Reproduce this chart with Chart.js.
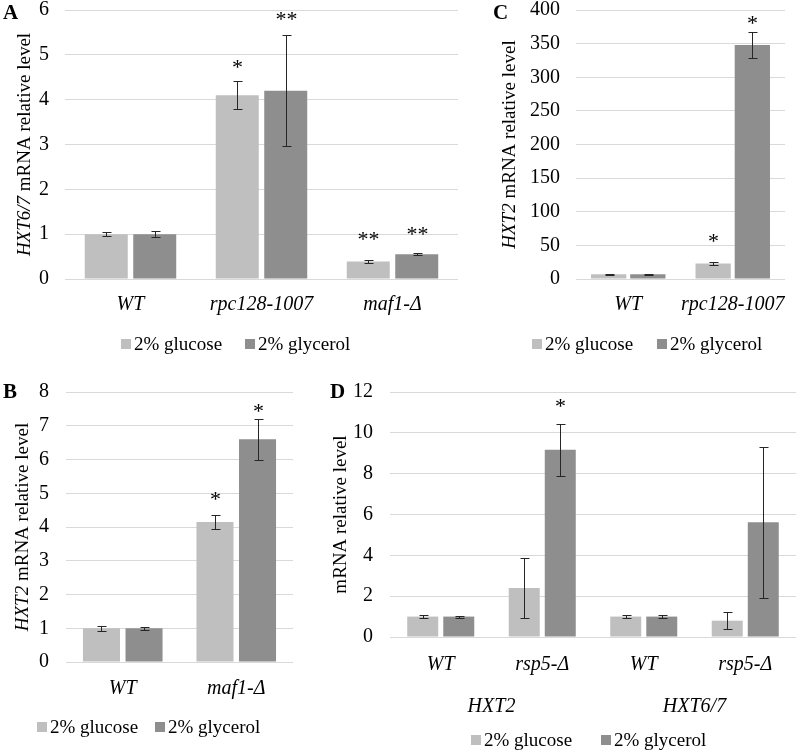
<!DOCTYPE html>
<html><head><meta charset="utf-8">
<script src="https://cdn.jsdelivr.net/npm/chart.js@4.4.1/dist/chart.umd.min.js"></script>
<style>
body{margin:0;background:#fff;width:800px;height:753px;position:relative;overflow:hidden}
canvas{position:absolute}
</style></head><body>
<canvas id="ca" width="465" height="360" style="left:0;top:0"></canvas>
<canvas id="cc" width="335" height="360" style="left:465px;top:0"></canvas>
<canvas id="cb" width="300" height="373" style="left:0;top:380px"></canvas>
<canvas id="cd" width="500" height="373" style="left:300px;top:380px"></canvas>
<script>
// ---------- data ----------
const seriesNames = ['2% glucose', '2% glycerol'];

const catsA = ['WT', 'rpc128-1007', 'maf1-Δ'];
const glucA = [1.0, 4.1, 0.39];
const glycA = [1.0, 4.2, 0.55];
const glucErrA = [0.05, 0.31, 0.03];
const glycErrA = [0.07, 1.24, 0.02];
const glucSigA = ['', '*', '**'];
const glycSigA = ['', '**', '**'];

const catsB = ['WT', 'maf1-Δ'];
const glucB = [1.0, 4.15];
const glycB = [1.0, 6.6];
const glucErrB = [0.08, 0.21];
const glycErrB = [0.05, 0.6];
const glucSigB = ['', '*'];
const glycSigB = ['', '*'];

const catsC = ['WT', 'rpc128-1007'];
const glucC = [7, 23];
const glycC = [7, 348];
const glucErrC = [0.6, 2];
const glycErrC = [0.6, 20];
const glucSigC = ['', '*'];
const glycSigC = ['', '*'];

const catsD = ['WT', 'rsp5-Δ', 'WT', 'rsp5-Δ'];
const groupsD = ['HXT2', 'HXT6/7'];
const glucD = [1.0, 2.4, 1.0, 0.8];
const glycD = [1.0, 9.17, 1.0, 5.62];
const glucErrD = [0.07, 1.48, 0.06, 0.42];
const glycErrD = [0.05, 1.26, 0.06, 3.7];
const glucSigD = ['', '', '', ''];
const glycSigD = ['', '*', '', ''];

// ---------- styles ----------
const FONT = '"Liberation Serif", "Times New Roman", serif';
const C_GLU = '#BFBFBF';
const C_GLY = '#8E8E8E';
const GRID = '#D9D9D9';

const decor = {
  id: 'decor',
  afterDatasetsDraw(chart, args, o) {
    const ctx = chart.ctx, y = chart.scales.y;
    chart.data.datasets.forEach((ds, di) => {
      const meta = chart.getDatasetMeta(di);
      meta.data.forEach((bar, i) => {
        const v = ds.data[i], e = ds.errors[i];
        const top = Math.round(y.getPixelForValue(v + e)) + 0.5;
        const bot = Math.round(y.getPixelForValue(v - e)) + 0.5;
        const x = Math.round(bar.x) + 0.5;
        ctx.save();
        ctx.strokeStyle = '#262626'; ctx.lineWidth = 1;
        ctx.beginPath();
        ctx.moveTo(x, top); ctx.lineTo(x, bot);
        ctx.moveTo(x - 4, top); ctx.lineTo(x + 5, top);
        ctx.moveTo(x - 4, bot); ctx.lineTo(x + 5, bot);
        ctx.stroke();
        const s = ds.marks[i];
        if (s) {
          ctx.fillStyle = '#000';
          ctx.font = '22px ' + FONT;
          ctx.textAlign = 'center'; ctx.textBaseline = 'alphabetic';
          ctx.fillText(s, x, top - o.starGap[di][i] + 7);
        }
        ctx.restore();
      });
    });
  },
  afterDraw(chart, args, o) {
    const ctx = chart.ctx, ca = chart.chartArea;
    ctx.save();
    ctx.fillStyle = '#000';
    ctx.font = 'bold 21px ' + FONT;
    ctx.textAlign = 'left'; ctx.textBaseline = 'middle';
    ctx.fillText(o.letter, o.letterX, o.letterY);
    ctx.save();
    ctx.translate(o.titleX, (ca.top + ca.bottom) / 2);
    ctx.rotate(-Math.PI / 2);
    ctx.textBaseline = 'middle'; ctx.textAlign = 'left';
    ctx.font = 'italic 19px ' + FONT;
    const w1 = ctx.measureText(o.title[0]).width;
    ctx.font = '19px ' + FONT;
    const w2 = ctx.measureText(o.title[1]).width;
    const x0 = -(w1 + w2) / 2;
    ctx.font = 'italic 19px ' + FONT;
    ctx.fillText(o.title[0], x0, 0);
    ctx.font = '19px ' + FONT;
    ctx.fillText(o.title[1], x0 + w1, 0);
    ctx.restore();
    ctx.font = '19px ' + FONT;
    ctx.textBaseline = 'middle'; ctx.textAlign = 'left';
    chart.data.datasets.forEach((ds, di) => {
      const lx = o.legendX[di];
      ctx.fillStyle = ds.backgroundColor;
      ctx.fillRect(lx, o.legendY - 5, 10, 10);
      ctx.fillStyle = '#000';
      ctx.fillText(ds.label, lx + 13, o.legendY + 1);
    });
    ctx.restore();
  }
};

function noPad(s) { s.paddingTop = 0; s.paddingBottom = 0; s.paddingLeft = 0; s.paddingRight = 0; }

function makeChart(id, cfg) {
  const el = document.getElementById(id);
  const H = el.height, W = el.width;
  const scales = {
    x: {
      type: 'category',
      grid: { display: false }, border: { display: false },
      ticks: { color: '#000', padding: cfg.xPad, autoSkip: false, maxRotation: 0, font: { family: FONT, size: 20, style: 'italic', lineHeight: 1 } },
      afterFit: s => { s.height = cfg.xH; noPad(s); }
    },
    y: {
      min: 0, max: cfg.max,
      grid: { color: GRID, lineWidth: 1, drawTicks: false },
      border: { display: false },
      ticks: { stepSize: cfg.step, color: '#000', padding: cfg.yPad, font: { family: FONT, size: 20, lineHeight: 1 } },
      afterFit: s => { s.width = cfg.left; noPad(s); }
    }
  };
  let extraH = 0;
  if (cfg.groups) {
    scales.x2 = {
      type: 'category', position: 'bottom', labels: cfg.groups, offset: true,
      grid: { display: false }, border: { display: false },
      ticks: { color: '#000', padding: cfg.x2Pad, maxRotation: 0, font: { family: FONT, size: 20, style: 'italic', lineHeight: 1 } },
      afterFit: s => { s.height = cfg.x2H; noPad(s); }
    };
    extraH = cfg.x2H;
  }
  return new Chart(el, {
    type: 'bar',
    data: {
      labels: cfg.cats,
      datasets: [
        { label: seriesNames[0], data: cfg.glu, errors: cfg.gluErr, marks: cfg.gluSig, backgroundColor: C_GLU,
          categoryPercentage: cfg.catP, barPercentage: cfg.barP },
        { label: seriesNames[1], data: cfg.gly, errors: cfg.glyErr, marks: cfg.glySig, backgroundColor: C_GLY,
          categoryPercentage: cfg.catP, barPercentage: cfg.barP }
      ]
    },
    options: {
      responsive: false, animation: false, devicePixelRatio: 1,
      layout: { padding: { left: 0, right: W - cfg.right, top: cfg.top, bottom: H - cfg.bottom - cfg.xH - extraH } },
      plugins: {
        legend: { display: false }, tooltip: { enabled: false },
        decor: cfg.decor
      },
      scales
    },
    plugins: [decor]
  });
}

makeChart('ca', {
  cats: catsA, glu: glucA, gly: glycA, gluErr: glucErrA, glyErr: glycErrA, gluSig: glucSigA, glySig: glycSigA,
  max: 6, step: 1, left: 65, right: 458, top: 10, bottom: 279, xH: 40, xPad: 8, yPad: 16,
  catP: 0.74, barP: 0.887,
  decor: { letter: 'A', letterX: 3, letterY: 14, title: ['HXT6/7', ' mRNA relative level'], titleX: 25,
    legendX: [121, 245], legendY: 344, starGap: [[0, 15, 22], [0, 17, 20]] }
});

makeChart('cc', {
  cats: catsC, glu: glucC, gly: glycC, gluErr: glucErrC, glyErr: glycErrC, gluSig: glucSigC, glySig: glycSigC,
  max: 400, step: 50, left: 111, right: 320, top: 10, bottom: 279, xH: 40, xPad: 8, yPad: 16,
  catP: 0.75, barP: 0.9,
  decor: { letter: 'C', letterX: 28, letterY: 14, title: ['HXT2', ' mRNA relative level'], titleX: 45,
    legendX: [67, 192], legendY: 344, starGap: [[0, 22], [0, 10]] }
});

makeChart('cb', {
  cats: catsB, glu: glucB, gly: glycB, gluErr: glucErrB, glyErr: glycErrB, gluSig: glucSigB, glySig: glycSigB,
  max: 8, step: 1, left: 66, right: 293, top: 12, bottom: 282, xH: 40, xPad: 9, yPad: 17,
  catP: 0.75, barP: 0.87,
  decor: { letter: 'B', letterX: 3, letterY: 13, title: ['HXT2', ' mRNA relative level'], titleX: 23,
    legendX: [37, 155], legendY: 347, starGap: [[0, 17], [0, 9]] }
});

makeChart('cd', {
  cats: catsD, groups: groupsD, glu: glucD, gly: glycD, gluErr: glucErrD, glyErr: glycErrD, gluSig: glucSigD, glySig: glycSigD,
  max: 12, step: 2, left: 90, right: 496, top: 12, bottom: 257, xH: 38, xPad: 10, x2H: 42, x2Pad: 14, yPad: 17,
  catP: 0.71, barP: 0.86,
  decor: { letter: 'D', letterX: 30, letterY: 13, title: ['', 'mRNA relative level'], titleX: 41,
    legendX: [171, 301], legendY: 360, starGap: [[0, 0, 0, 0], [0, 19, 0, 0]] }
});
</script>
</body></html>
